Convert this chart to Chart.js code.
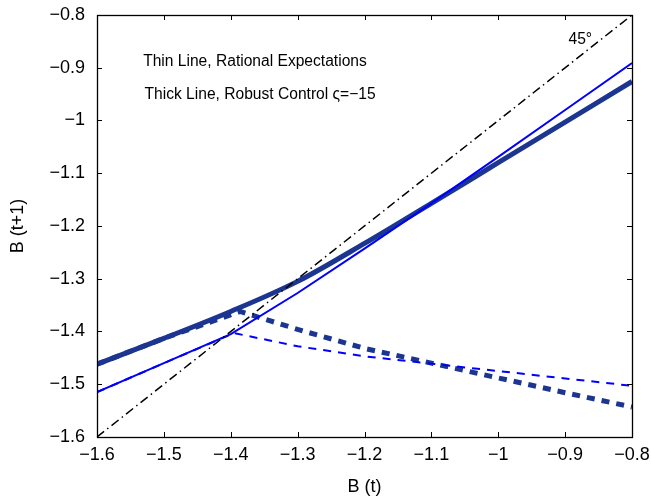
<!DOCTYPE html>
<html>
<head>
<meta charset="utf-8">
<script src="https://cdn.jsdelivr.net/npm/chart.js@4"></script>
<style>
  html, body { margin: 0; padding: 0; background: #fff; }
  #wrap { width: 651px; height: 498px; position: relative; }
</style>
</head>
<body>
<div id="wrap"><canvas id="c" width="651" height="498"></canvas></div>
<script>
// ---- data ----
const bt        = [-1.6, -1.5, -1.4, -1.3, -1.2, -1.1, -1.0, -0.9, -0.8];
const reSolid   = [-1.515, -1.46, -1.405, -1.327, -1.243, -1.157, -1.069, -0.98, -0.891];
const rcSolid   = [-1.462, -1.413, -1.362, -1.305, -1.233, -1.157, -1.080, -1.003, -0.926];
const reDashedX = [-1.6, -1.5, -1.395, -1.3, -1.2, -1.1, -1.0, -0.9, -0.8];
const reDashed  = [-1.515, -1.46, -1.403, -1.428, -1.447, -1.461, -1.475, -1.489, -1.503];
const rcDashedX = [-1.6, -1.5, -1.386, -1.3, -1.2, -1.1, -1.0, -0.9, -0.8];
const rcDashed  = [-1.462, -1.413, -1.362, -1.396, -1.432, -1.460, -1.488, -1.516, -1.543];
const diagX     = [-1.6, -0.8];
const diagY     = [-1.6, -0.8];
const xTicks    = [-1.6, -1.5, -1.4, -1.3, -1.2, -1.1, -1.0, -0.9, -0.8];
const yTicks    = [-1.6, -1.5, -1.4, -1.3, -1.2, -1.1, -1.0, -0.9, -0.8];
const notes = [
  { text: 'Thin Line, Rational Expectations', x: -1.531, y: -0.889 },
  { text: 'Thick Line, Robust Control \u03C2=\u221215', x: -1.529, y: -0.951 },
  { text: '45\u00B0', x: -0.895, y: -0.847 }
];

const pts = (xs, ys) => xs.map((x, i) => ({ x: x, y: ys[i] }));
const fmt = v => { const r = Math.round(v * 10) / 10; return (r < 0 ? '\u2212' : '') + String(Math.abs(r)); };
const FONT = "'Liberation Sans', Arial, sans-serif";
const THICK = '#1b3591';
const THIN = '#0000ff';

const frame = {
  id: 'frame',
  afterDatasetsDraw(chart) {
    const { ctx, chartArea: a, scales } = chart;
    ctx.save();
    ctx.strokeStyle = '#000';
    ctx.lineWidth = 1;
    const L = 5;
    xTicks.forEach(v => {
      const px = Math.round(scales.x.getPixelForValue(v)) + 0.5;
      ctx.beginPath();
      ctx.moveTo(px, a.bottom); ctx.lineTo(px, a.bottom - L);
      ctx.moveTo(px, a.top); ctx.lineTo(px, a.top + L);
      ctx.stroke();
    });
    yTicks.forEach(v => {
      const py = Math.round(scales.y.getPixelForValue(v)) + 0.5;
      ctx.beginPath();
      ctx.moveTo(a.left, py); ctx.lineTo(a.left + L, py);
      ctx.moveTo(a.right, py); ctx.lineTo(a.right - L, py);
      ctx.stroke();
    });
    ctx.lineWidth = 1.3;
    ctx.strokeRect(Math.round(a.left) + 0.5, Math.round(a.top) + 0.5,
                   Math.round(a.right - a.left), Math.round(a.bottom - a.top));
    ctx.fillStyle = '#000';
    ctx.font = '15.6px ' + FONT;
    ctx.textBaseline = 'middle';
    ctx.textAlign = 'left';
    notes.forEach(n => {
      ctx.fillText(n.text, scales.x.getPixelForValue(n.x), scales.y.getPixelForValue(n.y));
    });
    ctx.restore();
  }
};

new Chart(document.getElementById('c'), {
  type: 'line',
  data: {
    datasets: [
      { data: pts(diagX, diagY), borderColor: '#000', borderWidth: 1.5, borderDash: [9, 4, 1.5, 4], pointRadius: 0, tension: 0 },
      { data: pts(bt, reSolid), borderColor: THIN, borderWidth: 2, pointRadius: 0, tension: 0 },
      { data: pts(reDashedX, reDashed), borderColor: THIN, borderWidth: 2, borderDash: [8, 7], pointRadius: 0, tension: 0 },
      { data: pts(bt, rcSolid), borderColor: THICK, borderWidth: 5, pointRadius: 0, cubicInterpolationMode: 'monotone' },
      { data: pts(rcDashedX, rcDashed), borderColor: THICK, borderWidth: 5, borderDash: [8, 7], pointRadius: 0, tension: 0 }
    ]
  },
  options: {
    responsive: false,
    animation: false,
    devicePixelRatio: 1,
    layout: { padding: { left: 0, right: 19, top: 15, bottom: 0 } },
    plugins: { legend: { display: false }, tooltip: { enabled: false } },
    scales: {
      x: {
        type: 'linear', min: -1.6, max: -0.8,
        afterBuildTicks: s => { s.ticks = xTicks.map(v => ({ value: v })); },
        afterFit: s => { s.height = 61; s.paddingLeft = 0; s.paddingRight = 0; },
        grid: { display: false, drawTicks: false },
        border: { display: false },
        ticks: { autoSkip: false, maxRotation: 0, padding: 7, color: '#000', font: { family: FONT, size: 18 }, callback: v => fmt(v) },
        title: { display: true, text: 'B (t)', color: '#000', font: { family: FONT, size: 18 }, padding: { top: 2, bottom: 0 } }
      },
      y: {
        type: 'linear', min: -1.6, max: -0.8,
        afterBuildTicks: s => { s.ticks = yTicks.map(v => ({ value: v })); },
        afterFit: s => { s.width = 97; s.paddingTop = 0; s.paddingBottom = 0; },
        grid: { display: false, drawTicks: false },
        border: { display: false },
        ticks: { autoSkip: false, padding: 12, color: '#000', font: { family: FONT, size: 18 }, callback: v => fmt(v) },
        title: { display: true, text: 'B (t+1)', color: '#000', font: { family: FONT, size: 18 }, padding: { top: 7, bottom: 0 } }
      }
    }
  },
  plugins: [frame]
});
</script>
</body>
</html>
